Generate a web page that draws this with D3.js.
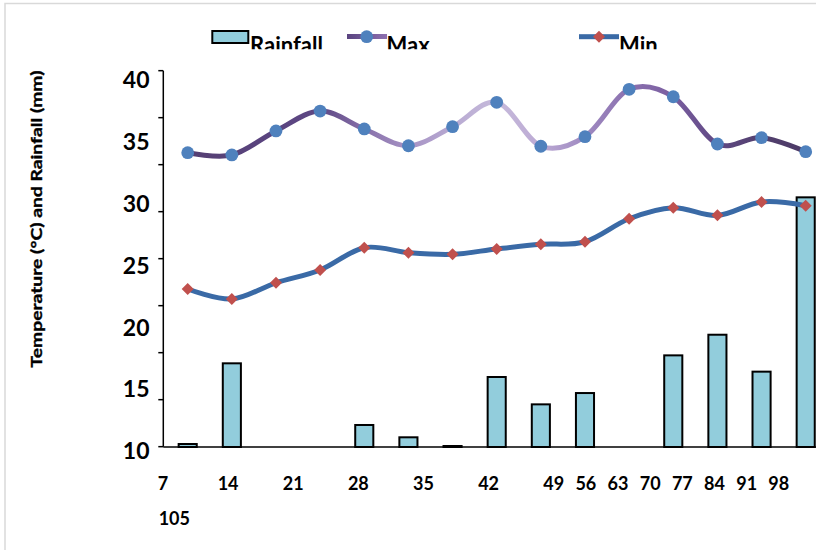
<!DOCTYPE html>
<html>
<head>
<meta charset="utf-8">
<script src="https://cdn.jsdelivr.net/npm/d3@7"></script>
<style>
  html, body { margin: 0; padding: 0; background: #fff; }
  svg { display: block; font-family: Lato, "Open Sans", sans-serif; font-weight: bold; }
</style>
</head>
<body>
<svg id="chart" width="816" height="550"></svg>
<script>
// ---- data ----
const days = [7, 14, 21, 28, 35, 42, 49, 56, 63, 70, 77, 84, 91, 98, 105];
const rainfall = [10.24, 16.73, 10, 10, 11.77, 10.78, 10.08, 15.63, 13.43, 14.34, 10, 17.37, 19.03, 16.06, 30.08];
const maxTemp = [33.67, 33.49, 35.42, 37.02, 35.58, 34.23, 35.76, 37.72, 34.19, 34.96, 38.77, 38.17, 34.37, 34.88, 33.75];
const minTemp = [22.71, 21.90, 23.21, 24.24, 26.03, 25.63, 25.50, 25.93, 26.30, 26.51, 28.36, 29.25, 28.63, 29.71, 29.41];
const yTickLabels = [10, 15, 20, 25, 30, 35, 40];
const xTickLabels = ["7", "14", "21", "28", "35", "42", "49", "56", "63", "70", "77", "84", "91", "98"];
const xWrapLabel = "105";
const seriesNames = ["Rainfall", "Max", "Min"];

// ---- layout ----
const svg = d3.select("#chart");
const W = 816, H = 550;
svg.append("rect").attr("width", W).attr("height", H).attr("fill", "#fff");
// outer chart border
svg.append("rect").attr("x", 5).attr("y", 3.5).attr("width", 1000).attr("height", 1000)
  .attr("fill", "none").attr("stroke", "#d9d9d9").attr("stroke-width", 1.5);

const x = d3.scalePoint().domain(days).range([187.7, 805.7]);
const y = d3.scaleLinear().domain([10, 40]).range([447, 74]);
const yLab = d3.scaleLinear().domain([10, 40]).range([451, 80]);
const yTick = d3.scaleLinear().domain([0, 8]).range([446.67, 70.67]);
const xLab = d3.scaleLinear().domain([0, 6, 13]).range([163, 553.7, 778.8]);
const axisX = 163.3;

const defs = svg.append("defs");
const grad = defs.append("linearGradient").attr("id", "maxGrad")
  .attr("gradientUnits", "userSpaceOnUse")
  .attr("x1", x(days[0])).attr("x2", x(days[days.length - 1])).attr("y1", 0).attr("y2", 0);
[[0, "#553f72"], [0.14, "#5a4480"], [0.215, "#5e4884"], [0.285, "#8770aa"], [0.356, "#a692c4"],
 [0.428, "#b8aad2"], [0.5, "#c6badb"], [0.57, "#bcaad4"], [0.64, "#a08bc2"], [0.71, "#8c72b0"],
 [0.785, "#7a5ea0"], [0.855, "#604984"], [0.93, "#52406e"], [1, "#4c3a66"]]
  .forEach(([o, c]) => grad.append("stop").attr("offset", o).attr("stop-color", c));
const legGrad = defs.append("linearGradient").attr("id", "legGrad")
  .attr("x1", 0).attr("x2", 1).attr("y1", 0).attr("y2", 0);
legGrad.append("stop").attr("offset", 0).attr("stop-color", "#5a4480");
legGrad.append("stop").attr("offset", 1).attr("stop-color", "#8e70b0");
defs.append("clipPath").attr("id", "legClip").append("rect")
  .attr("x", 0).attr("y", 0).attr("width", W).attr("height", 49.3);

// ---- bars ----
const barW = x.step() * 0.41;
svg.append("g").selectAll("rect").data(days).join("rect")
  .attr("x", (d) => x(d) - barW / 2)
  .attr("y", (d, i) => y(rainfall[i]))
  .attr("width", barW)
  .attr("height", (d, i) => y(10) - y(rainfall[i]))
  .attr("fill", "#92cddc").attr("stroke", "#000").attr("stroke-width", 2);

// ---- axes ----
const ax = svg.append("g").attr("stroke", "#000").attr("stroke-width", 1.5);
ax.append("line").attr("x1", axisX).attr("x2", axisX).attr("y1", yTick(8)).attr("y2", yTick(0));
ax.selectAll("line.t").data(d3.range(9)).join("line").attr("class", "t")
  .attr("x1", axisX - 5).attr("x2", axisX).attr("y1", (d) => yTick(d)).attr("y2", (d) => yTick(d));
ax.append("line").attr("x1", axisX).attr("x2", W).attr("y1", y(10)).attr("y2", y(10));

svg.append("g").selectAll("text").data(yTickLabels).join("text")
  .attr("x", 149.5).attr("y", (d) => yLab(d) + 8.3)
  .attr("text-anchor", "end").attr("font-size", 23).attr("fill", "#000")
  .text((d) => d);

svg.append("g").selectAll("text").data(xTickLabels).join("text")
  .attr("x", (d, i) => xLab(i)).attr("y", 489.5)
  .attr("text-anchor", "middle").attr("font-size", 18).attr("fill", "#000")
  .text((d) => d);
svg.append("text").attr("x", 174.3).attr("y", 525).attr("text-anchor", "middle")
  .attr("font-size", 18).attr("fill", "#000").text(xWrapLabel);

// y axis title
svg.append("text")
  .attr("transform", "translate(41.5,219) rotate(-90)")
  .attr("text-anchor", "middle").attr("font-size", 15.5).attr("fill", "#000")
  .attr("stroke", "#000").attr("stroke-width", 0.35)
  .attr("textLength", 297).attr("lengthAdjust", "spacingAndGlyphs")
  .text("Temperature (°C) and Rainfall (mm)");

// ---- lines ----
const curve = d3.curveCardinal.tension(0);
const lineMax = d3.line().x((d, i) => x(days[i])).y((d) => y(d)).curve(curve);
const lineMin = d3.line().x((d, i) => x(days[i])).y((d) => y(d)).curve(curve);

svg.append("path").datum(maxTemp).attr("d", lineMax)
  .attr("fill", "none").attr("stroke", "url(#maxGrad)").attr("stroke-width", 5).attr("stroke-linecap", "round");
svg.append("path").datum(minTemp).attr("d", lineMin)
  .attr("fill", "none").attr("stroke", "#3a6aa6").attr("stroke-width", 5).attr("stroke-linecap", "round");

svg.append("g").selectAll("circle").data(maxTemp).join("circle")
  .attr("cx", (d, i) => x(days[i])).attr("cy", (d) => y(d)).attr("r", 6.4)
  .attr("fill", "#4f81bd");

const diamond = d3.symbol().type(d3.symbolSquare).size(72);
svg.append("g").selectAll("path").data(minTemp).join("path")
  .attr("d", diamond)
  .attr("transform", (d, i) => `translate(${x(days[i])},${y(d)}) rotate(45)`)
  .attr("fill", "#c0504d");

// ---- legend ----
const leg = svg.append("g");
leg.append("rect").attr("x", 212.3).attr("y", 31).attr("width", 36).attr("height", 12)
  .attr("fill", "#92cddc").attr("stroke", "#000").attr("stroke-width", 2);
leg.append("rect").attr("x", 347).attr("y", 34).attr("width", 40).attr("height", 5)
  .attr("fill", "url(#legGrad)");
leg.append("circle").attr("cx", 366.7).attr("cy", 36.7).attr("r", 6.4).attr("fill", "#4f81bd");
leg.append("rect").attr("x", 579).attr("y", 34.2).attr("width", 40).attr("height", 5)
  .attr("fill", "#3a6aa6");
leg.append("path").attr("d", diamond).attr("transform", "translate(599,36.7) rotate(45)")
  .attr("fill", "#c0504d");
const legText = leg.append("g").attr("clip-path", "url(#legClip)");
const legX = [250, 386.5, 619];
legText.selectAll("text").data(seriesNames).join("text")
  .attr("x", (d, i) => legX[i]).attr("y", 52.8)
  .attr("font-size", 22).attr("fill", "#000").text((d) => d);
</script>
</body>
</html>
